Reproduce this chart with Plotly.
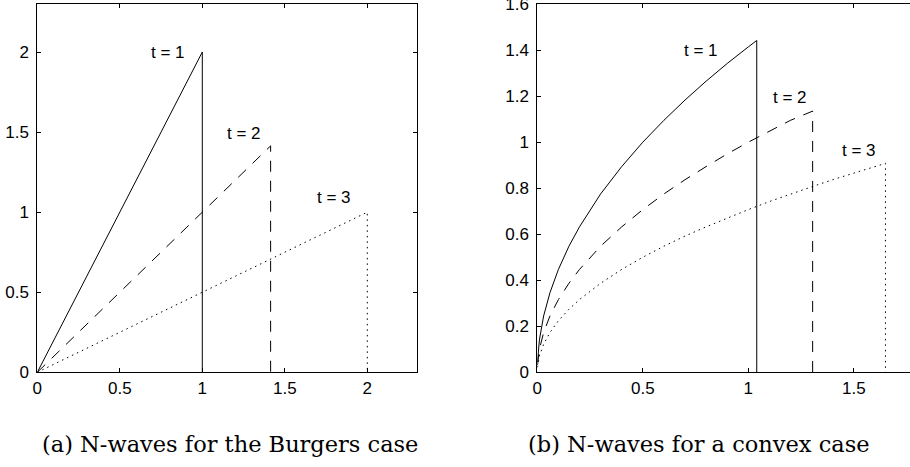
import plotly.graph_objects as go

W, H = 910, 467

# ---------------- data ----------------
# (a) Burgers case
xa_t1 = [0, 1.0, 1.0]
ya_t1 = [0, 2.0, 0]
xa_t2 = [0, 1.414, 1.414]
ya_t2 = [0, 1.414, 0]
xa_t3 = [0, 2.0, 2.0]
ya_t3 = [0, 1.0, 0]

# (b) convex case
xb_t1 = [0.001, 0.003, 0.01, 0.03, 0.06, 0.1, 0.15, 0.2, 0.3, 0.4, 0.5, 0.6, 0.7, 0.8, 0.9, 1.0, 1.04, 1.04]
yb_t1 = [0.045, 0.077, 0.141, 0.245, 0.346, 0.447, 0.548, 0.632, 0.775, 0.894, 1.0, 1.095, 1.183, 1.265, 1.342, 1.414, 1.442, 0.0]
xb_t2 = [0.001, 0.003, 0.01, 0.03, 0.06, 0.1, 0.15, 0.2, 0.3, 0.4, 0.5, 0.6, 0.7, 0.8, 0.9, 1.0, 1.1, 1.2, 1.305, 1.305]
yb_t2 = [0.032, 0.055, 0.1, 0.173, 0.245, 0.316, 0.387, 0.447, 0.548, 0.632, 0.707, 0.775, 0.837, 0.894, 0.949, 1.0, 1.049, 1.095, 1.135, 0.0]
xb_t3 = [0.001, 0.003, 0.01, 0.03, 0.06, 0.1, 0.15, 0.2, 0.3, 0.4, 0.5, 0.6, 0.7, 0.8, 0.9, 1.0, 1.1, 1.2, 1.3, 1.4, 1.5, 1.6, 1.65, 1.65]
yb_t3 = [0.022, 0.039, 0.071, 0.122, 0.173, 0.224, 0.274, 0.316, 0.387, 0.447, 0.5, 0.548, 0.592, 0.632, 0.671, 0.707, 0.742, 0.775, 0.806, 0.837, 0.866, 0.894, 0.908, 0.0]

labels = ["t = 1", "t = 2", "t = 3"]
label_pos_a = [(0.79, 2.0), (1.25, 1.494), (1.80, 1.094)]
label_pos_b = [(0.774, 1.397), (1.196, 1.196), (1.526, 0.964)]

xticks_a = [0, 0.5, 1, 1.5, 2]
xticktext_a = ["0", "0.5", "1", "1.5", "2"]
yticks_a = [0, 0.5, 1, 1.5, 2]
yticktext_a = ["0", "0.5", "1", "1.5", "2"]
xticks_b = [0, 0.5, 1, 1.5]
xticktext_b = ["0", "0.5", "1", "1.5"]
yticks_b = [0, 0.2, 0.4, 0.6, 0.8, 1.0, 1.2, 1.4, 1.6]
yticktext_b = ["0", "0.2", "0.4", "0.6", "0.8", "1", "1.2", "1.4", "1.6"]

captions = ["(a) N-waves for the Burgers case", "(b) N-waves for a convex case"]

# ---------------- figure ----------------
styles = [dict(color="black", width=1, dash="solid"),
          dict(color="black", width=1, dash="11px,9px"),
          dict(color="black", width=1, dash="1.5px,4px")]

fig = go.Figure()
for xs, ys, st in zip([xa_t1, xa_t2, xa_t3], [ya_t1, ya_t2, ya_t3], styles):
    fig.add_trace(go.Scatter(x=xs, y=ys, mode="lines", line=st, xaxis="x", yaxis="y",
                             showlegend=False, hoverinfo="skip"))
for xs, ys, st in zip([xb_t1, xb_t2, xb_t3], [yb_t1, yb_t2, yb_t3], styles):
    fig.add_trace(go.Scatter(x=xs, y=ys, mode="lines", line=st, xaxis="x2", yaxis="y2",
                             showlegend=False, hoverinfo="skip"))

tickfont = dict(family="Liberation Sans, Arial, sans-serif", size=17, color="black")

# pixel geometry
la_x0, la_x1 = 37.3, 417.3
rb_x0 = 537.3
y_top, y_bot = 4.0, 372.3
ydom = [(H - y_bot) / H, (H - y_top) / H]

common = dict(showgrid=False, zeroline=False, showline=True, linecolor="black", linewidth=1,
              ticks="inside", ticklen=4, tickcolor="black", tickwidth=1, tickfont=tickfont,
              automargin=False, tickmode="array", ticklabeloverflow="allow")

fig.update_layout(
    xaxis=dict(common, domain=[la_x0 / W, la_x1 / W], range=[0, 2.303], mirror="ticks",
               tickvals=xticks_a, ticktext=xticktext_a, anchor="y"),
    yaxis=dict(common, domain=ydom, range=[0, 2.30], mirror="ticks", ticklabelstandoff=4,
               tickvals=yticks_a, ticktext=yticktext_a, anchor="x"),
    xaxis2=dict(common, domain=[rb_x0 / W, 1.0], range=[0, (W - rb_x0) / 211.0], mirror="ticks",
                tickvals=xticks_b, ticktext=xticktext_b, anchor="y2"),
    yaxis2=dict(common, domain=ydom, range=[0, 1.6005], mirror=False, ticklabelstandoff=4,
                tickvals=yticks_b, ticktext=yticktext_b, anchor="x2"),
    width=W, height=H,
    margin=dict(l=0, r=0, t=0, b=0),
    paper_bgcolor="white", plot_bgcolor="white",
)

annos = []
for (x, y), txt in zip(label_pos_a, labels):
    annos.append(dict(x=x, y=y, xref="x", yref="y", text=txt, showarrow=False,
                      font=tickfont, xanchor="center", yanchor="middle"))
for (x, y), txt in zip(label_pos_b, labels):
    annos.append(dict(x=x, y=y, xref="x2", yref="y2", text=txt, showarrow=False,
                      font=tickfont, xanchor="center", yanchor="middle"))
capfont = dict(family="DejaVu Serif, serif", size=22.5, color="black")
annos.append(dict(x=230 / W, y=(H - 444) / H, xref="paper", yref="paper", text=captions[0],
                  showarrow=False, font=capfont, xanchor="center", yanchor="middle"))
annos.append(dict(x=699 / W, y=(H - 444) / H, xref="paper", yref="paper", text=captions[1],
                  showarrow=False, font=capfont, xanchor="center", yanchor="middle"))
fig.update_layout(annotations=annos)

fig.write_html("out.html", config={"displayModeBar": False},
               post_script="document.body.style.margin='0';document.body.style.padding='0';")
